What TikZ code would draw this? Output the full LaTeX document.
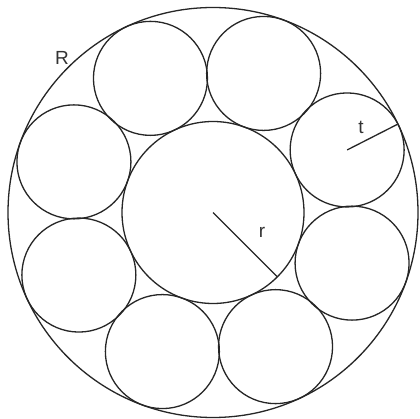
\documentclass[tikz,border=0pt]{standalone}
\usepackage{fontspec}
\setmainfont{Liberation Sans}
\usetikzlibrary{calc}
\begin{document}
\begin{tikzpicture}[x=1pt,y=-1pt,
  ring/.style={draw=black!85, line width=1.3pt},
  lbl/.style={font=\fontsize{19}{19}\selectfont, text=black!80, inner sep=0pt}]
\useasboundingbox[fill=white] (0,0) rectangle (420,419);
\coordinate (O) at (213,212.5);
\draw[ring] (O) circle (205pt);
\draw[ring] (O) circle (91pt);
\foreach \i in {0,...,7}{
  \coordinate (s\i) at ($(O)+({25+45*\i}:148pt)$);
  \draw[ring] (s\i) circle (57pt);
}
\coordinate (tend) at ($(s0)+(27:56pt)$);
\coordinate (rend) at ($(O)+(-45:91pt)$);
\draw[ring] (s0) -- (tend);
\draw[ring] (O) -- (rend);
\node[lbl] (Rl) at (62,58) {R};
\node[lbl] (tl) at (361,127) {t};
\node[lbl] (rl) at (262,232) {r};
\end{tikzpicture}
\end{document}
